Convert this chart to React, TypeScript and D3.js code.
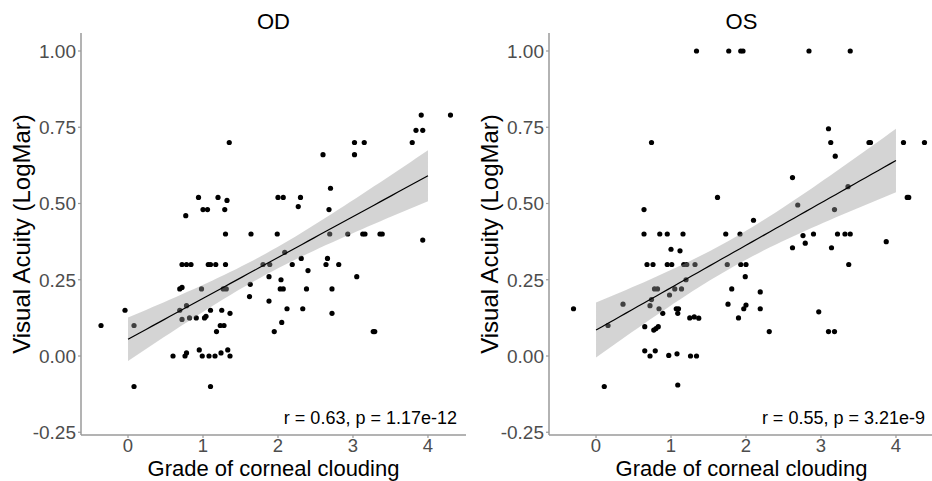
import React from "react";
import * as d3 from "d3";

// grade of corneal clouding vs visual acuity, right eye (OD)
const odGrade = [
  -0.36, -0.04, 0.08, 0.08, 0.6, 0.76, 0.78, 0.95, 0.99, 1.08, 1.16, 1.24, 1.33, 1.36,
  1.1, 1.18, 1.23, 1.28, 1.95, 2.05, 3.27, 3.29, 0.72, 0.82, 0.91, 1.02, 1.04, 0.69,
  0.78, 1.1, 1.25, 1.36, 0.69, 0.72, 0.98, 1.27, 1.31, 0.72, 0.78, 0.84, 1.07, 1.1,
  1.17, 1.3, 1.8, 1.89, 1.3, 1.64, 1.99, 0.77, 1.0, 1.06, 1.29, 0.94, 1.2, 1.32,
  1.35, 1.62, 1.63, 1.88, 1.88, 2.0, 2.07, 2.3, 2.27, 2.68, 2.7, 2.69, 2.93, 3.13,
  3.16, 3.36, 3.39, 3.93, 2.09, 2.19, 2.31, 2.66, 2.64, 2.81, 2.4, 3.05, 2.04, 2.03,
  2.07, 2.38, 2.72, 2.12, 2.33, 2.72, 2.6, 3.02, 3.02, 3.15, 3.79, 3.84, 3.93, 3.91,
  4.3,
];
const odAcuity = [
  0.1, 0.15, 0.1, -0.1, 0.0, 0.0, 0.01, 0.02, 0.0, 0.0, 0.0, 0.01, 0.02, 0.0,
  -0.1, 0.08, 0.1, 0.1, 0.08, 0.11, 0.08, 0.08, 0.12, 0.125, 0.125, 0.125, 0.13, 0.15,
  0.165, 0.15, 0.15, 0.14, 0.22, 0.225, 0.22, 0.22, 0.22, 0.3, 0.3, 0.3, 0.3, 0.3,
  0.3, 0.3, 0.3, 0.3, 0.4, 0.4, 0.4, 0.46, 0.48, 0.48, 0.48, 0.52, 0.52, 0.51,
  0.7, 0.195, 0.235, 0.18, 0.26, 0.52, 0.52, 0.52, 0.49, 0.48, 0.55, 0.4, 0.4, 0.4,
  0.4, 0.4, 0.4, 0.38, 0.34, 0.3, 0.32, 0.32, 0.3, 0.3, 0.28, 0.26, 0.25, 0.22,
  0.22, 0.22, 0.22, 0.155, 0.155, 0.14, 0.66, 0.7, 0.66, 0.7, 0.7, 0.74, 0.74, 0.79,
  0.79,
];

// left eye (OS)
const osGrade = [
  -0.3, 0.11, 0.16, 0.36, 0.64, 0.64, 0.85, 0.95, 1.16, 0.68, 0.76, 0.95, 1.01, 1.17,
  1.21, 1.32, 1.0, 1.12, 0.78, 0.82, 1.05, 1.14, 0.98, 1.2, 0.72, 0.74, 0.84, 0.89,
  1.07, 1.1, 1.09, 1.25, 1.31, 1.37, 0.65, 0.77, 0.8, 0.83, 0.65, 0.72, 0.79, 0.97,
  1.08, 1.09, 1.26, 1.34, 1.34, 1.77, 1.93, 1.96, 2.84, 3.39, 0.74, 3.1, 3.13, 3.19,
  3.64, 3.66, 4.1, 4.38, 2.62, 3.36, 4.15, 4.17, 2.69, 3.18, 2.1, 1.92, 2.76, 2.9,
  2.79, 2.62, 3.22, 3.32, 3.39, 3.14, 3.87, 3.37, 1.93, 2.0, 1.99, 1.81, 2.19, 2.0,
  1.97, 2.19, 1.9, 2.97, 1.62, 1.73, 1.75, 1.76, 2.31, 3.1, 3.18,
];
const osAcuity = [
  0.155, -0.1, 0.1, 0.17, 0.48, 0.4, 0.4, 0.4, 0.4, 0.3, 0.3, 0.3, 0.3, 0.3,
  0.3, 0.3, 0.35, 0.345, 0.22, 0.22, 0.22, 0.22, 0.2, 0.25, 0.165, 0.185, 0.155, 0.14,
  0.155, 0.155, 0.14, 0.125, 0.128, 0.124, 0.096, 0.085, 0.09, 0.096, 0.017, 0.0, 0.017, 0.002,
  0.007, -0.095, 0.0, 0.0, 1.0, 1.0, 1.0, 1.0, 1.0, 1.0, 0.7, 0.745, 0.7, 0.655,
  0.7, 0.7, 0.7, 0.7, 0.585, 0.555, 0.52, 0.52, 0.495, 0.48, 0.445, 0.4, 0.395, 0.4,
  0.37, 0.355, 0.4, 0.4, 0.4, 0.355, 0.375, 0.3, 0.3, 0.3, 0.26, 0.22, 0.21, 0.167,
  0.155, 0.155, 0.125, 0.145, 0.52, 0.4, 0.3, 0.17, 0.08, 0.08, 0.08,
];

// fitted line (intercept, slope)
const odFit = [0.055, 0.134];
const osFit = [0.085, 0.139];

const xTicks = [0, 1, 2, 3, 4];
const yTicks = [-0.25, 0, 0.25, 0.5, 0.75, 1.0];
const fitRange = [0, 4];
const tCrit = 1.984;

const FONT = "'Liberation Sans', Arial, Helvetica, sans-serif";

function fitLine(xs: number[], ys: number[], coef: number[]) {
  const n = xs.length;
  const mx = d3.mean(xs)!;
  const [a, b] = coef;
  let sxx = 0, sse = 0;
  xs.forEach((x, i) => {
    sxx += (x - mx) ** 2;
    sse += (ys[i] - a - b * x) ** 2;
  });
  const s = Math.sqrt(sse / (n - 2));
  const grid = d3.range(0, 51).map((k) => fitRange[0] + (k / 50) * (fitRange[1] - fitRange[0]));
  return grid.map((x) => {
    const yhat = a + b * x;
    const se = s * Math.sqrt(1 / n + (x - mx) ** 2 / sxx);
    return { x, y: yhat, lo: yhat - tCrit * se, hi: yhat + tCrit * se };
  });
}

function Panel({ left, right, title, grade, acuity, coef, label }: any) {
  const top = 33, bottom = 435;
  const x = d3.scaleLinear().domain([-0.627, 4.507]).range([left, right]);
  const y = d3.scaleLinear().domain([-0.259, 1.059]).range([bottom, top]);
  const fit = fitLine(grade, acuity, coef);
  const band = d3.area<any>().x((d) => x(d.x)).y0((d) => y(d.lo)).y1((d) => y(d.hi));
  const line = d3.line<any>().x((d) => x(d.x)).y((d) => y(d.y));
  const mid = (left + right) / 2;

  return (
    <g fontFamily={FONT}>
      <text x={mid} y={29} textAnchor="middle" fontSize={22} fill="#000">{title}</text>
      {grade.map((g: number, i: number) => (
        <circle key={i} cx={x(g)} cy={y(acuity[i])} r={2.6} fill="#000" />
      ))}
      <path d={band(fit)!} fill="#999999" fillOpacity={0.42} />
      <path d={line(fit)!} fill="none" stroke="#000" strokeWidth={1.2} />
      <line x1={left} x2={left} y1={top} y2={bottom} stroke="#9a9a9a" strokeWidth={1.5} />
      <line x1={left} x2={right} y1={bottom} y2={bottom} stroke="#9a9a9a" strokeWidth={1.5} />
      {yTicks.map((t) => (
        <g key={t}>
          <line x1={left - 3} x2={left} y1={y(t)} y2={y(t)} stroke="#9a9a9a" strokeWidth={1.2} />
          <text x={left - 5} y={y(t)} dy="0.36em" textAnchor="end" fontSize={19} fill="#4d4d4d">{t.toFixed(2)}</text>
        </g>
      ))}
      {xTicks.map((t) => (
        <g key={t}>
          <line x1={x(t)} x2={x(t)} y1={bottom} y2={bottom + 3} stroke="#9a9a9a" strokeWidth={1.2} />
          <text x={x(t)} y={452} textAnchor="middle" fontSize={18.5} fill="#4d4d4d">{t}</text>
        </g>
      ))}
      <text x={mid} y={476} textAnchor="middle" fontSize={22} fill="#000">Grade of corneal clouding</text>
      <text transform={`translate(${left - 51},${(top + bottom) / 2}) rotate(-90)`} textAnchor="middle" fontSize={24} fill="#000">
        Visual Acuity (LogMar)
      </text>
      <text x={right - 9} y={424} textAnchor="end" fontSize={18} fill="#000">{label}</text>
    </g>
  );
}

export default function App() {
  return (
    <svg width={932} height={481} style={{ position: "absolute", left: 0, top: 0, background: "#fff" }}>
      <rect width={932} height={481} fill="#fff" />
      <Panel left={81} right={466} title="OD" grade={odGrade} acuity={odAcuity} coef={odFit} label="r = 0.63, p = 1.17e-12" />
      <Panel left={549} right={934} title="OS" grade={osGrade} acuity={osAcuity} coef={osFit} label="r = 0.55, p = 3.21e-9" />
    </svg>
  );
}
